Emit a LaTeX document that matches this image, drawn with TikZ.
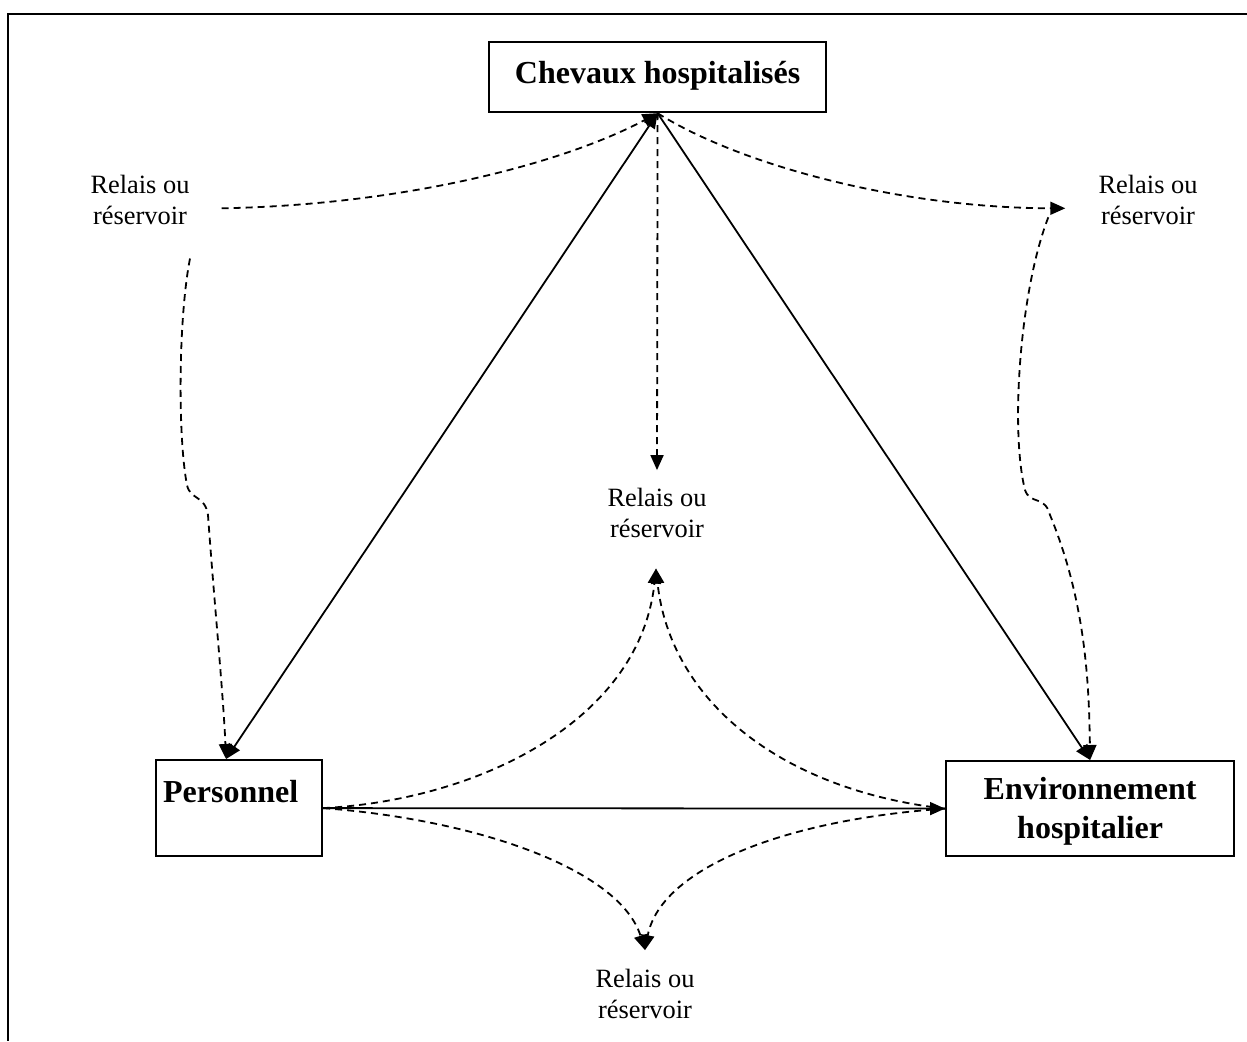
\documentclass[tikz,border=0pt]{standalone}
\usepackage{fontspec}
\setmainfont{Liberation Serif}
\usetikzlibrary{arrows.meta,calc}
% two-line relay label, baseline on its first line
\newcommand{\relaisbox}{\begin{tabular}[t]{@{}c@{}}Relais ou\\réservoir\end{tabular}}

\begin{document}
\begin{tikzpicture}[x=1pt,y=-1pt,
  >={Triangle[length=15pt,width=13pt]},
  box/.style={draw, line width=2.2pt, inner sep=0pt, anchor=north west,
    font=\fontsize{32}{39}\selectfont\bfseries},
  relay/.style={inner sep=0pt, anchor=base, font=\fontsize{26.4}{31}\selectfont},
  link/.style={line width=1.8pt, ->},
  dlink/.style={link, dash pattern=on 7pt off 5pt},
]
\useasboundingbox (0,0) rectangle (1247,1041);

% page frame (top and left edges)
\draw[line width=2pt] (1247,14.5) -- (7.5,14.5) -- (7.5,1041);

% main boxes
\node[box, minimum width=337pt, text height=41pt, text depth=29pt] (chev) at (488,41) {Chevaux hospitalisés};
\node[box, text width=152pt, inner xsep=7pt, align=left, text height=42pt, text depth=54pt] (pers) at (155,759) {Personnel};
\node[box, minimum width=288pt, text height=38pt, text depth=57pt] (env) at (945,760)
  {\begin{tabular}[t]{@{}c@{}}Environnement\\hospitalier\end{tabular}};

% relay / reservoir labels
\node[relay] (rl) at (140,193) {\relaisbox};
\node[relay] (rr) at (1148,193) {\relaisbox};
\node[relay] (rc) at (657,506) {\relaisbox};
\node[relay] (rb) at (645,987) {\relaisbox};

% direct transmission
\draw[link] (pers.east) -- (env.west);
\draw[link, <->] ([xshift=-13pt]pers.north) -- (chev.south);
\draw[link] (chev.south) -- (env.north);

% indirect transmission through relays
\draw[dlink] ($(rl.east)+(32,6)$) .. controls (400,205) and (560,165) .. (chev.south);
\draw[dlink] (chev.south) .. controls (740,165) and (900,208) .. ($(rr.west)+(-33,6)$);
\draw[dlink] ($(rr.west)+(-50,15)$) .. controls (1020,290) and (1010,430) .. (1025,490)
  .. controls (1030,505) and (1045,495) .. (1050,515)
  .. controls (1085,600) and (1089,680) .. (env.north);
\draw[dlink] ($(rl.south)+(50,25)$) .. controls (178,320) and (178,440) .. (187,485)
  .. controls (190,500) and (205,495) .. (208,515)
  .. controls (214,600) and (223,690) .. ([xshift=-13pt]pers.north);
\draw[dlink] (chev.south) -- ($(rc.north)+(0,-14)$);
\draw[dlink] (pers.east) .. controls (480,800) and (640,720) .. ($(rc.south)+(-1,22)$);
\draw[dlink] (env.west) .. controls (780,790) and (670,700) .. ($(rc.south)+(-1,22)$);
\draw[dlink] (pers.east) .. controls (480,820) and (620,870) .. ($(rb.north)+(0,-15)$);
\draw[dlink] (env.west) .. controls (780,820) and (660,870) .. ($(rb.north)+(0,-15)$);
\end{tikzpicture}
\end{document}
